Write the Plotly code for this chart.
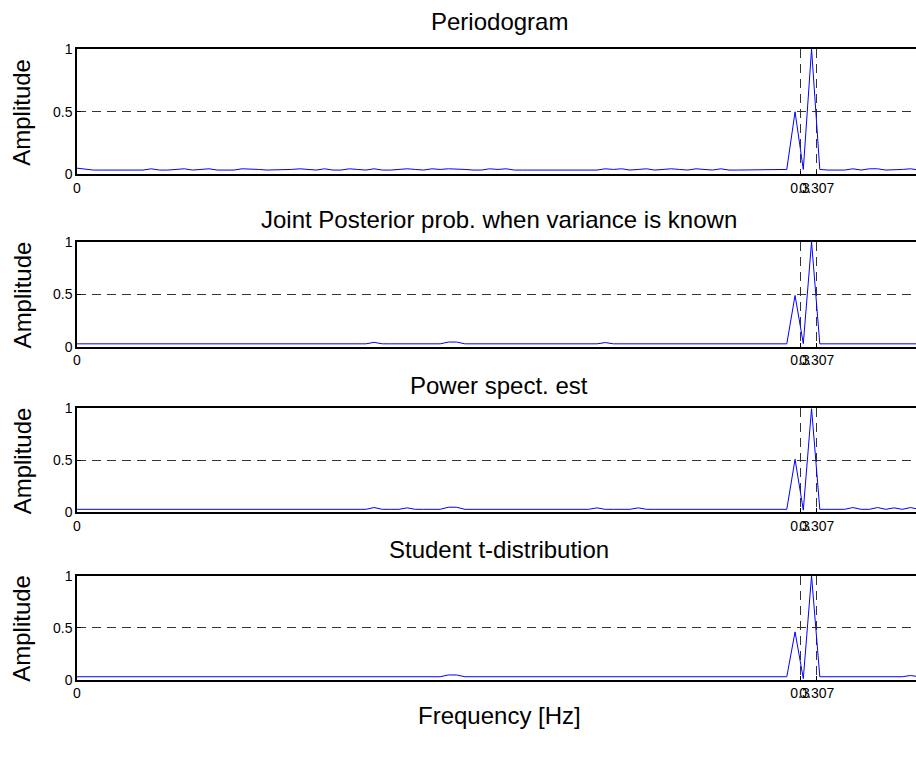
import plotly.graph_objects as go
import numpy as np

# Frequency grid of the spectral estimates (bin spacing 1/292 Hz)
n_bins = 103
freq = np.arange(n_bins) / 292.0

x_ticks = [0, 0.3, 0.307]
x_tick_text = ["0", "0.3", "0.307"]
y_ticks = [0, 0.5, 1]
y_tick_text = ["0", "0.5", "1"]

titles = [
    "Periodogram",
    "Joint Posterior prob. when variance is known",
    "Power spect. est",
    "Student t-distribution",
]

periodogram = [
    0.05, 0.04, 0.035, 0.035, 0.035, 0.035, 0.035, 0.035, 0.035, 0.045,
    0.035, 0.035, 0.04, 0.045, 0.035, 0.04, 0.045, 0.035, 0.035, 0.035,
    0.045, 0.045, 0.04, 0.035, 0.035, 0.035, 0.04, 0.045, 0.04, 0.035,
    0.045, 0.035, 0.035, 0.045, 0.04, 0.035, 0.045, 0.035, 0.035, 0.04,
    0.045, 0.04, 0.035, 0.045, 0.04, 0.045, 0.045, 0.04, 0.035, 0.035,
    0.045, 0.04, 0.045, 0.035, 0.035, 0.035, 0.035, 0.035, 0.035, 0.035,
    0.035, 0.035, 0.035, 0.035, 0.045, 0.04, 0.045, 0.035, 0.04, 0.045,
    0.035, 0.04, 0.045, 0.04, 0.035, 0.045, 0.04, 0.035, 0.045, 0.035,
    0.035, 0.035, 0.035, 0.035, 0.035, 0.035, 0.04, 0.5, 0.04, 1.0,
    0.04, 0.035, 0.035, 0.035, 0.045, 0.035, 0.045, 0.045, 0.035, 0.035,
    0.04, 0.045, 0.035,
]

joint_posterior = [
    0.028, 0.028, 0.028, 0.028, 0.028, 0.028, 0.028, 0.028, 0.028, 0.028,
    0.028, 0.028, 0.028, 0.028, 0.028, 0.028, 0.028, 0.028, 0.028, 0.028,
    0.028, 0.028, 0.028, 0.028, 0.028, 0.028, 0.028, 0.028, 0.028, 0.028,
    0.028, 0.028, 0.028, 0.028, 0.028, 0.028, 0.042, 0.028, 0.028, 0.028,
    0.028, 0.028, 0.028, 0.028, 0.028, 0.045, 0.045, 0.028, 0.028, 0.028,
    0.028, 0.028, 0.028, 0.028, 0.028, 0.028, 0.028, 0.028, 0.028, 0.028,
    0.028, 0.028, 0.028, 0.028, 0.04, 0.028, 0.028, 0.028, 0.028, 0.028,
    0.028, 0.028, 0.028, 0.028, 0.028, 0.028, 0.028, 0.028, 0.028, 0.028,
    0.028, 0.028, 0.028, 0.028, 0.028, 0.028, 0.028, 0.49, 0.03, 1.0,
    0.028, 0.028, 0.028, 0.028, 0.028, 0.028, 0.028, 0.028, 0.028, 0.028,
    0.028, 0.028, 0.028,
]

power_spectrum = [
    0.028, 0.028, 0.028, 0.028, 0.028, 0.028, 0.028, 0.028, 0.028, 0.028,
    0.028, 0.028, 0.028, 0.028, 0.028, 0.028, 0.028, 0.028, 0.028, 0.028,
    0.028, 0.028, 0.028, 0.028, 0.028, 0.028, 0.028, 0.028, 0.028, 0.028,
    0.028, 0.028, 0.028, 0.028, 0.028, 0.028, 0.045, 0.028, 0.028, 0.028,
    0.042, 0.028, 0.028, 0.028, 0.028, 0.048, 0.048, 0.028, 0.028, 0.028,
    0.028, 0.028, 0.028, 0.028, 0.028, 0.028, 0.028, 0.028, 0.028, 0.028,
    0.028, 0.028, 0.028, 0.042, 0.028, 0.028, 0.028, 0.028, 0.042, 0.028,
    0.028, 0.028, 0.028, 0.028, 0.028, 0.028, 0.028, 0.028, 0.028, 0.028,
    0.028, 0.028, 0.028, 0.028, 0.028, 0.028, 0.028, 0.51, 0.02, 1.0,
    0.028, 0.028, 0.028, 0.028, 0.045, 0.028, 0.028, 0.045, 0.028, 0.042,
    0.028, 0.045, 0.028,
]

student_t = [
    0.028, 0.028, 0.028, 0.028, 0.028, 0.028, 0.028, 0.028, 0.028, 0.028,
    0.028, 0.028, 0.028, 0.028, 0.028, 0.028, 0.028, 0.028, 0.028, 0.028,
    0.028, 0.028, 0.028, 0.028, 0.028, 0.028, 0.028, 0.028, 0.028, 0.028,
    0.028, 0.028, 0.028, 0.028, 0.028, 0.028, 0.028, 0.028, 0.028, 0.028,
    0.028, 0.028, 0.028, 0.028, 0.028, 0.045, 0.045, 0.028, 0.028, 0.028,
    0.028, 0.028, 0.028, 0.028, 0.028, 0.028, 0.028, 0.028, 0.028, 0.028,
    0.028, 0.028, 0.028, 0.028, 0.028, 0.028, 0.028, 0.028, 0.028, 0.028,
    0.028, 0.028, 0.028, 0.028, 0.028, 0.028, 0.028, 0.028, 0.028, 0.028,
    0.028, 0.028, 0.028, 0.028, 0.028, 0.028, 0.028, 0.46, 0.01, 1.0,
    0.028, 0.028, 0.028, 0.028, 0.028, 0.028, 0.028, 0.028, 0.028, 0.028,
    0.028, 0.04, 0.028,
]

series = [periodogram, joint_posterior, power_spectrum, student_t]

# Figure geometry (pixels)
W, H = 916, 765
LEFT = 77
PLOT_W = W - LEFT
panels_px = [(42, 170), (239, 346), (409, 515), (580, 686)]   # (top, bottom)
title_y_px = [14, 216, 386, 553]
x_center_px = 499
x_max = (W - LEFT) / 2410.0   # visible frequency span

FONT = "Liberation Sans, Arial, Helvetica, sans-serif"
LABEL_SIZE = 24
TICK_SIZE = 14
GRID = "#333333"


def py(p):
    return 1 - p / H


def px(p):
    return (p - LEFT) / PLOT_W


fig = go.Figure()
annotations = []
for i, (vals, title) in enumerate(zip(series, titles)):
    n = i + 1
    xa = "x" if n == 1 else f"x{n}"
    ya = "y" if n == 1 else f"y{n}"
    fig.add_trace(go.Scatter(
        x=freq, y=vals, mode="lines", xaxis=xa, yaxis=ya,
        line=dict(color="#0000ff", width=1), showlegend=False,
        hoverinfo="skip",
    ))
    top, bottom = panels_px[i]
    fig.layout[f"xaxis{'' if n == 1 else n}"] = dict(
        domain=[0, 1], anchor=ya, range=[0, x_max],
        tickmode="array", tickvals=x_ticks, ticktext=x_tick_text,
        tickangle=0, ticks="inside", ticklen=4, tickcolor="black",
        showline=True, linecolor="black", linewidth=1.5, mirror=True,
        showgrid=True, gridcolor=GRID, griddash="9px,6px", gridwidth=1,
        zeroline=False, tickfont=dict(family=FONT, size=TICK_SIZE, color="black"),
    )
    fig.layout[f"yaxis{'' if n == 1 else n}"] = dict(
        domain=[py(bottom), py(top)], anchor=xa, range=[0, 1],
        tickmode="array", tickvals=y_ticks, ticktext=y_tick_text,
        ticks="inside", ticklen=4, tickcolor="black",
        showline=True, linecolor="black", linewidth=1.5, mirror=False,
        showgrid=True, gridcolor=GRID, griddash="9px,6px", gridwidth=1,
        zeroline=False, tickfont=dict(family=FONT, size=TICK_SIZE, color="black"),
    )
    annotations.append(dict(
        text=title, xref="paper", yref="paper",
        x=px(x_center_px), y=py(title_y_px[i]),
        xanchor="center", yanchor="middle", showarrow=False,
        font=dict(family=FONT, size=LABEL_SIZE, color="black"),
    ))
    annotations.append(dict(
        text="Amplitude", xref="paper", yref="paper",
        x=px(22), y=py((top + bottom) / 2), textangle=-90,
        xanchor="center", yanchor="middle", showarrow=False,
        font=dict(family=FONT, size=LABEL_SIZE, color="black"),
    ))

annotations.append(dict(
    text="Frequency [Hz]", xref="paper", yref="paper",
    x=px(x_center_px), y=py(723), xanchor="center", yanchor="middle",
    showarrow=False, font=dict(family=FONT, size=LABEL_SIZE, color="black"),
))

fig.update_layout(
    width=W, height=H,
    margin=dict(l=LEFT, r=0, t=0, b=0),
    paper_bgcolor="white", plot_bgcolor="white",
    annotations=annotations,
)

fig.write_html("out.html")
